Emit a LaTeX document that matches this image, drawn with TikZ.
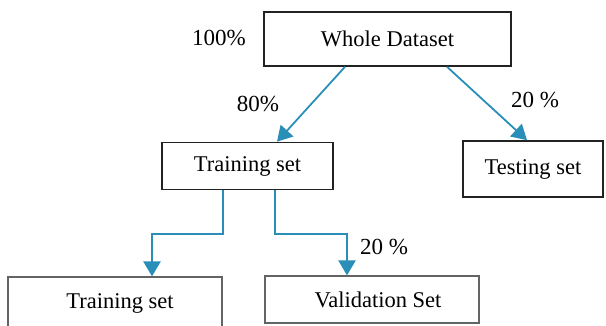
\documentclass[tikz,border=0pt]{standalone}
\usepackage{fontspec}
\setmainfont{Liberation Serif}
\usepackage{tikz}
\usetikzlibrary{positioning, arrows.meta}
\definecolor{splitblue}{HTML}{2A8FB8}
\definecolor{boxline}{HTML}{222222}

\begin{document}
\begin{tikzpicture}[x=1pt, y=-1pt,
    setbox/.style={draw=boxline, line width=1.6pt, fill=white, inner sep=0pt,
          font=\fontsize{22.5}{26}\selectfont},
    splitarrow/.style={draw=splitblue, line width=2.4pt,
          -{Triangle[length=15pt, width=17pt]}},
    pct/.style={font=\fontsize{23}{26}\selectfont}]
    \useasboundingbox (0,0) rectangle (606,326);
    \node[setbox, minimum width=247pt, minimum height=54pt] (whole) at (387.5,39) {Whole Dataset};
    \node[setbox, minimum width=171pt, minimum height=47pt] (train) at (247.5,166) {Training set};
    \node[setbox, minimum width=140pt, minimum height=56pt] (test) at (533,169) {Testing set};
    \node[setbox, draw=boxline!70, line width=1.2pt, minimum width=214pt, minimum height=53pt] (trainsub) at (115,303.5) {\hspace*{10pt}Training set};
    \node[setbox, draw=boxline!70, line width=1.2pt, minimum width=214pt, minimum height=47pt] (valid) at (372,299.5) {\hspace*{12pt}Validation Set};
    \node[pct] (pwhole) at (219,38) {100\%};
    \node[pct] (ptrain) at (258,104) {80\%};
    \node[pct] (ptest) at (535,100) {20 \%};
    \node[pct] (pvalid) at (384,247) {20 \%};
    \draw[splitarrow, line width=1.8pt] ([xshift=-42.5pt]whole.south) -- ([xshift=29.5pt]train.north);
    \draw[splitarrow, line width=1.8pt] ([xshift=59.5pt]whole.south) -- ([xshift=-6pt]test.north);
    \draw[splitarrow] ([xshift=-24.5pt]train.south) -- ++(0,44) -| ([xshift=37pt]trainsub.north);
    \draw[splitarrow] ([xshift=27.5pt]train.south) -- ++(0,44) -| ([xshift=-25pt]valid.north);
  \end{tikzpicture}
\end{document}
